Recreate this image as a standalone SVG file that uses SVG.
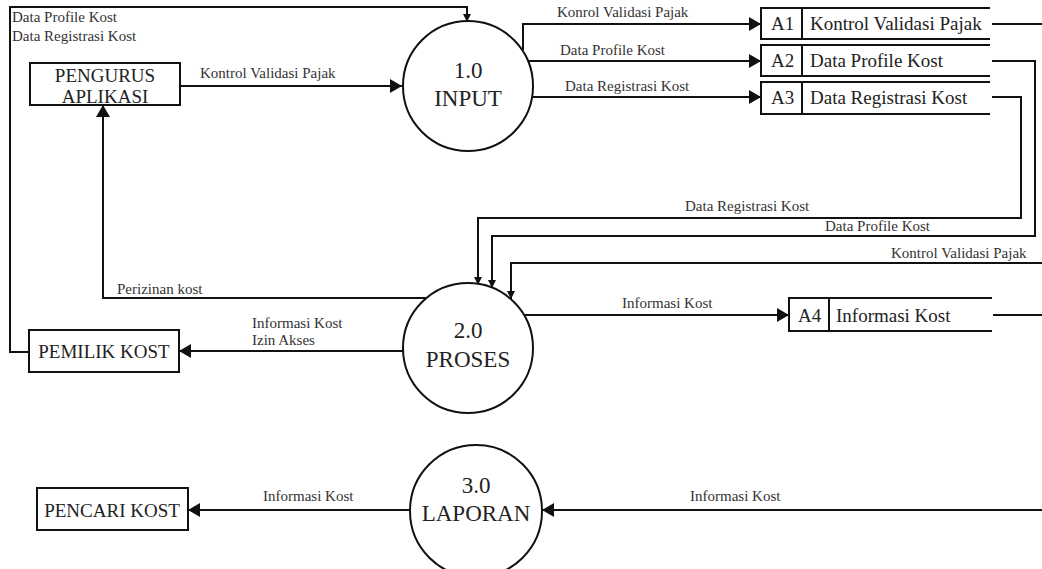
<svg xmlns="http://www.w3.org/2000/svg" width="1042" height="569" viewBox="0 0 1042 569">
  <style>
    .bg { fill: #ffffff; }
    .box { fill: #ffffff; stroke: #111; stroke-width: 2; }
    .proc { fill: #ffffff; stroke: #111; stroke-width: 2; }
    .store { fill: none; stroke: #111; stroke-width: 2; }
    .flow { fill: none; stroke: #111; stroke-width: 2; }
    .node-t { font-family: "Liberation Serif", "Times New Roman", serif; font-size: 19px; fill: #222; text-anchor: middle; }
    .proc-t { font-family: "Liberation Serif", "Times New Roman", serif; font-size: 23px; fill: #222; text-anchor: middle; }
    .store-t { font-family: "Liberation Serif", "Times New Roman", serif; font-size: 19px; fill: #222; }
    .lbl { font-family: "Liberation Serif", "Times New Roman", serif; font-size: 15px; fill: #333; }
  </style>
  <defs>
    <marker id="arrow" markerUnits="userSpaceOnUse" markerWidth="12" markerHeight="14" refX="12" refY="7" orient="auto">
      <path d="M0,0 L12,7 L0,14 z" fill="#111"/>
    </marker>
    <marker id="arrow-sm" markerUnits="userSpaceOnUse" markerWidth="8" markerHeight="8" refX="8" refY="4" orient="auto">
      <path d="M0,0 L8,4 L0,8 z" fill="#111"/>
    </marker>
  </defs>

  <rect class="bg" x="0" y="0" width="1042" height="569"/>

  <!-- data flows -->
  <g id="connectors">
    <!-- owner data into 1.0 -->
    <path class="flow" d="M29,352 H10 V7 H467 V22" marker-end="url(#arrow-sm)"/>
    <!-- pengurus to 1.0 -->
    <path class="flow" d="M180,86 H402" marker-end="url(#arrow)"/>
    <!-- 1.0 to stores -->
    <path class="flow" d="M523,50 V24 H761" marker-end="url(#arrow)"/>
    <path class="flow" d="M528,61 H761" marker-end="url(#arrow)"/>
    <path class="flow" d="M532,97 H761" marker-end="url(#arrow)"/>
    <!-- stores back to 2.0 -->
    <path class="flow" d="M992,24 H1042"/>
    <path class="flow" d="M992,61 H1035 V236 H492 V288" marker-end="url(#arrow-sm)"/>
    <path class="flow" d="M992,97 H1021 V218 H478 V285" marker-end="url(#arrow-sm)"/>
    <path class="flow" d="M1042,263 H511 V299" marker-end="url(#arrow-sm)"/>
    <!-- 2.0 outputs -->
    <path class="flow" d="M428,298 H103 V105" marker-end="url(#arrow)"/>
    <path class="flow" d="M403,351 H179" marker-end="url(#arrow)"/>
    <path class="flow" d="M525,315 H789" marker-end="url(#arrow)"/>
    <path class="flow" d="M993,315 H1042"/>
    <!-- 3.0 flows -->
    <path class="flow" d="M1042,510 H542" marker-end="url(#arrow)"/>
    <path class="flow" d="M410,510 H188" marker-end="url(#arrow)"/>

    <!-- flow labels -->
    <text class="lbl" x="12" y="22">Data Profile Kost</text>
    <text class="lbl" x="12" y="41">Data Registrasi Kost</text>
    <text class="lbl" x="200" y="78">Kontrol Validasi Pajak</text>
    <text class="lbl" x="557" y="17">Konrol Validasi Pajak</text>
    <text class="lbl" x="560" y="55">Data Profile Kost</text>
    <text class="lbl" x="565" y="91">Data Registrasi Kost</text>
    <text class="lbl" x="685" y="211">Data Registrasi Kost</text>
    <text class="lbl" x="825" y="231">Data Profile Kost</text>
    <text class="lbl" x="891" y="258">Kontrol Validasi Pajak</text>
    <text class="lbl" x="117" y="294">Perizinan kost</text>
    <text class="lbl" x="252" y="328">Informasi Kost</text>
    <text class="lbl" x="252" y="345">Izin Akses</text>
    <text class="lbl" x="622" y="308">Informasi Kost</text>
    <text class="lbl" x="263" y="501">Informasi Kost</text>
    <text class="lbl" x="690" y="501">Informasi Kost</text>
  </g>

  <!-- external entities -->
  <g id="pengurus-aplikasi">
    <rect class="box" x="30" y="63" width="150" height="42"/>
    <text class="node-t" x="105" y="82">PENGURUS</text>
    <text class="node-t" x="105" y="103">APLIKASI</text>
  </g>
  <g id="pemilik-kost">
    <rect class="box" x="29" y="330" width="150" height="42"/>
    <text class="node-t" x="104" y="358">PEMILIK KOST</text>
  </g>
  <g id="pencari-kost">
    <rect class="box" x="37" y="488" width="151" height="42"/>
    <text class="node-t" x="112" y="517">PENCARI KOST</text>
  </g>

  <!-- processes -->
  <g id="proc-input">
    <circle class="proc" cx="468" cy="86" r="65"/>
    <text class="proc-t" x="468" y="78">1.0</text>
    <text class="proc-t" x="468" y="106">INPUT</text>
  </g>
  <g id="proc-proses">
    <circle class="proc" cx="468" cy="348" r="65"/>
    <text class="proc-t" x="468" y="338">2.0</text>
    <text class="proc-t" x="468" y="367">PROSES</text>
  </g>
  <g id="proc-laporan">
    <circle class="proc" cx="476" cy="511" r="66"/>
    <text class="proc-t" x="476" y="493">3.0</text>
    <text class="proc-t" x="476" y="521">LAPORAN</text>
  </g>

  <!-- data stores -->
  <g id="store-a1">
    <path class="store" d="M990,8 H761 V39 H990 M802,8 V39"/>
    <text class="store-t" x="771" y="30">A1</text>
    <text class="store-t" x="810" y="30">Kontrol Validasi Pajak</text>
  </g>
  <g id="store-a2">
    <path class="store" d="M990,45 H761 V76 H990 M802,45 V76"/>
    <text class="store-t" x="771" y="67">A2</text>
    <text class="store-t" x="810" y="67">Data Profile Kost</text>
  </g>
  <g id="store-a3">
    <path class="store" d="M990,82 H761 V114 H990 M802,82 V114"/>
    <text class="store-t" x="771" y="104">A3</text>
    <text class="store-t" x="810" y="104">Data Registrasi Kost</text>
  </g>
  <g id="store-a4">
    <path class="store" d="M992,298 H789 V331 H992 M829,298 V331"/>
    <text class="store-t" x="798" y="322">A4</text>
    <text class="store-t" x="836" y="322">Informasi Kost</text>
  </g>
</svg>
